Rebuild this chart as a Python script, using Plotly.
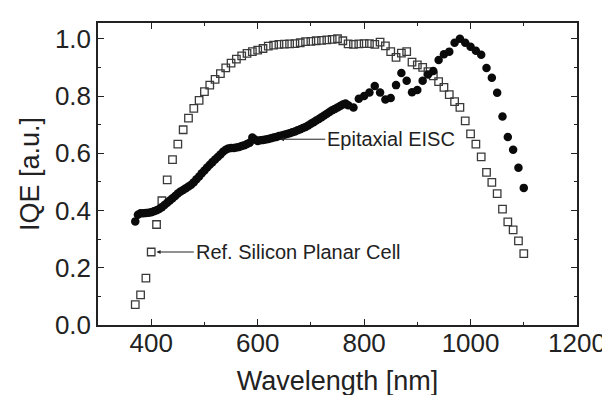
import plotly.graph_objects as go

# Ref. Silicon Planar Cell (open squares)
ref_wl = [370, 380, 390, 400, 410, 420, 430, 440, 450, 460, 470, 480, 490, 500,
          510, 520, 530, 540, 550, 560, 570, 580, 590, 600, 610, 620, 630, 640,
          650, 660, 670, 680, 690, 700, 710, 720, 730, 740, 750, 760, 770, 780,
          790, 800, 810, 820, 830, 840, 850, 860, 870, 880, 890, 900, 910, 920,
          930, 940, 950, 960, 970, 980, 990, 1000, 1010, 1020, 1030, 1040, 1050,
          1060, 1070, 1080, 1090, 1100]
ref_iqe = [0.071, 0.105, 0.164, 0.255, 0.351, 0.434, 0.507, 0.578, 0.632, 0.682,
           0.723, 0.757, 0.785, 0.815, 0.838, 0.858, 0.878, 0.898, 0.915, 0.929,
           0.940, 0.949, 0.955, 0.960, 0.966, 0.974, 0.978, 0.980, 0.981, 0.982,
           0.983, 0.986, 0.990, 0.991, 0.993, 0.994, 0.996, 0.998, 1.000, 0.993,
           0.982, 0.980, 0.982, 0.983, 0.983, 0.980, 0.988, 0.975, 0.955, 0.935,
           0.950, 0.955, 0.918, 0.909, 0.900, 0.885, 0.870, 0.850, 0.830, 0.805,
           0.780, 0.760, 0.713, 0.668, 0.632, 0.587, 0.533, 0.498, 0.459, 0.405,
           0.360, 0.332, 0.294, 0.249]

# Epitaxial EISC (filled circles)
eisc_wl = [370, 375, 380, 385, 390, 395, 400, 405, 410, 415, 420, 425, 430, 435,
           440, 445, 450, 455, 460, 465, 470, 475, 480, 485, 490, 495, 500, 505,
           510, 515, 520, 525, 530, 535, 540, 545, 550, 555, 560, 565, 570, 575,
           580, 585, 590, 595, 600, 605, 610, 615, 620, 625, 630, 635, 640, 645,
           650, 655, 660, 665, 670, 675, 680, 685, 690, 695, 700, 705, 710, 715,
           720, 725, 730, 735, 740, 745, 750, 755, 760, 765, 770, 780, 790, 800,
           810, 820, 830, 840, 850, 860, 870, 880, 890, 900, 910, 920, 930, 940,
           950, 960, 970, 980, 990, 1000, 1010, 1020, 1030, 1040, 1050, 1060,
           1070, 1080, 1090, 1100]
eisc_iqe = [0.362, 0.385, 0.390, 0.390, 0.391, 0.392, 0.394, 0.397, 0.401, 0.405,
            0.411, 0.419, 0.427, 0.435, 0.443, 0.451, 0.459, 0.466, 0.472, 0.478,
            0.484, 0.490, 0.499, 0.509, 0.519, 0.530, 0.540, 0.550, 0.560, 0.569,
            0.578, 0.587, 0.596, 0.605, 0.612, 0.617, 0.618, 0.618, 0.620, 0.622,
            0.625, 0.628, 0.632, 0.637, 0.655, 0.648, 0.643, 0.645, 0.646, 0.648,
            0.650, 0.652, 0.655, 0.657, 0.660, 0.662, 0.665, 0.667, 0.670, 0.673,
            0.676, 0.680, 0.684, 0.688, 0.692, 0.697, 0.703, 0.708, 0.714, 0.720,
            0.726, 0.732, 0.738, 0.744, 0.750, 0.755, 0.760, 0.765, 0.770, 0.774,
            0.768, 0.760, 0.790, 0.800, 0.812, 0.835, 0.812, 0.788, 0.793, 0.838,
            0.880, 0.853, 0.813, 0.821, 0.853, 0.875, 0.887, 0.926, 0.946, 0.955,
            0.986, 1.000, 0.986, 0.972, 0.958, 0.944, 0.898, 0.864, 0.811, 0.728,
            0.657, 0.612, 0.549, 0.479]

x_ticks = [400, 600, 800, 1000, 1200]
y_ticks = [0.0, 0.2, 0.4, 0.6, 0.8, 1.0]
y_tick_text = ["0.0", "0.2", "0.4", "0.6", "0.8", "1.0"]

FONT = "Liberation Sans, Arial, sans-serif"

fig = go.Figure()
fig.add_trace(go.Scatter(
    x=ref_wl, y=ref_iqe, mode="markers",
    marker=dict(symbol="square-open", size=7.5, color="#3a3a3a", line=dict(width=1.3, color="#3a3a3a")),
    showlegend=False))
fig.add_trace(go.Scatter(
    x=eisc_wl, y=eisc_iqe, mode="markers",
    marker=dict(symbol="circle", size=8.5, color="#0a0a0a"),
    showlegend=False))

axis_common = dict(
    showline=True, linecolor="#222", linewidth=1.5, mirror="ticks",
    ticks="inside", ticklen=6, tickwidth=1.3, tickcolor="#222",
    showgrid=False, zeroline=False,
    tickfont=dict(family=FONT, size=26, color="#222"),
)

fig.update_xaxes(
    range=[300, 1200], tickvals=x_ticks,
    minor=dict(ticks="inside", ticklen=3, tickwidth=1.2, tickcolor="#222", dtick=100, tick0=0),
    title=dict(text="Wavelength [nm]", font=dict(family=FONT, size=27, color="#222"), standoff=14),
    ticklabelstandoff=-6,
    **axis_common)
fig.update_yaxes(
    range=[0, 1.055], tickvals=y_ticks, ticktext=y_tick_text,
    minor=dict(ticks="inside", ticklen=3, tickwidth=1.2, tickcolor="#222", dtick=0.1, tick0=0),
    title=dict(text="IQE [a.u.]", font=dict(family=FONT, size=27, color="#222"), standoff=7),
    ticklabelstandoff=0,
    **axis_common)

fig.add_annotation(
    x=642, y=0.649, xref="x", yref="y",
    ax=727, ay=0.649, axref="x", ayref="y",
    text="Epitaxial EISC", xanchor="left", yanchor="middle",
    showarrow=True, arrowhead=2, arrowsize=0.8, arrowwidth=1, arrowcolor="#222",
    font=dict(family=FONT, size=20, color="#222"))
fig.add_annotation(
    x=410, y=0.255, xref="x", yref="y",
    ax=480, ay=0.255, axref="x", ayref="y",
    text="Ref. Silicon Planar Cell", xanchor="left", yanchor="middle",
    showarrow=True, arrowhead=2, arrowsize=0.8, arrowwidth=1, arrowcolor="#222",
    font=dict(family=FONT, size=20, color="#222"))

fig.update_layout(
    width=610, height=395,
    margin=dict(l=90, r=34, t=15, b=78),
    paper_bgcolor="white", plot_bgcolor="white",
)

fig.write_html("out.html")
